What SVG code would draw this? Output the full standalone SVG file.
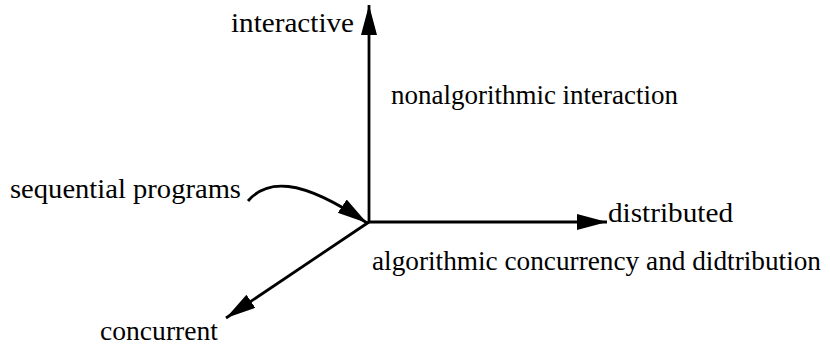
<svg xmlns="http://www.w3.org/2000/svg" width="830" height="346" viewBox="0 0 830 346">
<style>
text{font-family:"Liberation Serif","Times New Roman",serif;font-size:28px;fill:#000}
.ax{stroke:#000;stroke-width:2.8;fill:none}
</style>
<defs>
<marker id="ah" markerUnits="userSpaceOnUse" markerWidth="32" markerHeight="18" refX="30" refY="8" orient="auto" viewBox="0 0 32 18">
<path d="M0,0 L30,8 L0,16 z" fill="#000"/>
</marker>
</defs>
<g id="connectors">
<line class="ax" x1="369" y1="223" x2="369" y2="5" marker-end="url(#ah)"/>
<line class="ax" x1="368" y1="222" x2="607" y2="222" marker-end="url(#ah)"/>
<line class="ax" x1="369" y1="222" x2="226" y2="318" marker-end="url(#ah)"/>
<path class="ax" d="M248,201 C266,180 298,176 367,223" marker-end="url(#ah)"/>
</g>
<g id="interactive"><text x="231" y="32" textLength="123" lengthAdjust="spacingAndGlyphs">interactive</text></g>
<g id="nonalgorithmic"><text x="391" y="104" textLength="287" lengthAdjust="spacingAndGlyphs">nonalgorithmic interaction</text></g>
<g id="sequential"><text x="10" y="198" textLength="231" lengthAdjust="spacingAndGlyphs">sequential programs</text></g>
<g id="distributed"><text x="608" y="222" textLength="125" lengthAdjust="spacingAndGlyphs">distributed</text></g>
<g id="algorithmic"><text x="372" y="270" style="font-size:27px" textLength="449" lengthAdjust="spacingAndGlyphs">algorithmic concurrency and didtribution</text></g>
<g id="concurrent"><text x="100" y="340" textLength="118" lengthAdjust="spacingAndGlyphs">concurrent</text></g>
</svg>
